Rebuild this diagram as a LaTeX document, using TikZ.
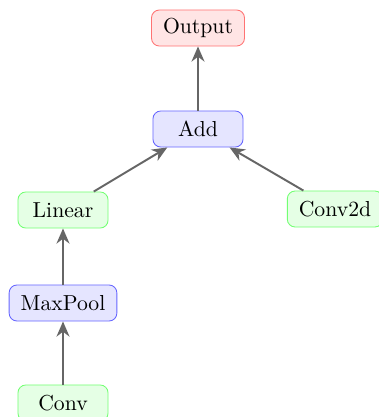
\documentclass[tikz,border=0pt]{standalone}
\usetikzlibrary{arrows.meta}
\begin{document}
\begin{tikzpicture}[x=0.4608pt, y=-0.4608pt,
  block/.style={draw, rounded corners=3.6pt, minimum width=41.5pt, minimum height=16.6pt,
    inner xsep=5.3pt, line width=0.4pt},
  outbox/.style={block, draw=red!55, fill=red!10},
  opbox/.style={block, draw=blue!60, fill=blue!10},
  layerbox/.style={block, draw=green!55, fill=green!10},
  flow/.style={draw=black!60, line width=0.9pt, -{Stealth[length=7pt, width=6pt]}}]
  \useasboundingbox (0,0) rectangle (379,417);
  \node[outbox]   (out)  at (198,28)  {Output};
  \node[opbox]    (add)  at (198,129) {Add};
  \node[layerbox] (lin)  at (63,210)  {Linear};
  \node[layerbox] (c2d)  at (335,209) {Conv2d};
  \node[opbox]    (pool) at (63,303)  {MaxPool};
  \node[layerbox] (conv) at (63,403)  {Conv};
  \draw[flow] (add) -- (out);
  \draw[flow] (lin) -- (add);
  \draw[flow] (c2d) -- (add);
  \draw[flow] (pool) -- (lin);
  \draw[flow] (conv) -- (pool);
\end{tikzpicture}
\end{document}
